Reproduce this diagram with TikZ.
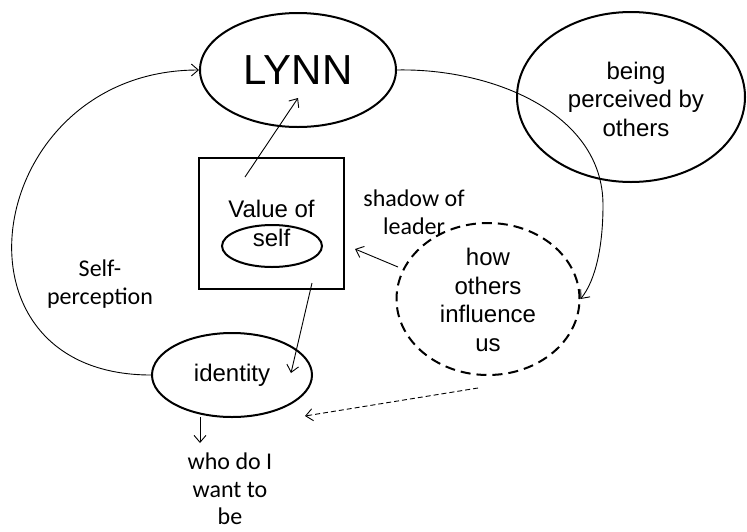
\documentclass[tikz,border=0pt]{standalone}
\usepackage{fontspec}
\setmainfont{Liberation Sans}
\newfontfamily\calfont{Carlito}
\usetikzlibrary{shapes.geometric,arrows.meta}
\begin{document}
\begin{tikzpicture}[x=1pt,y=-1pt,
  shp/.style={draw,line width=2pt},
  ell/.style={shp,ellipse,inner sep=0pt},
  txt/.style={align=center,font=\fontsize{24}{28.5}\selectfont,inner sep=0pt},
  ctxt/.style={align=center,font=\calfont\fontsize{24}{27.5}\selectfont,inner sep=0pt},
  conn/.style={line width=0.9pt,-{Straight Barb[length=7pt,width=12pt]}}]
\useasboundingbox (0,0) rectangle (747,531);
% shapes
\node[ell,minimum width=196pt,minimum height=114pt,font=\fontsize{42}{48}\selectfont] (lynn) at (298,70) {LYNN};
\node[ell,minimum width=228pt,minimum height=170pt] (perc) at (631,97) {};
\node[txt] (perctext) at (636,99) {being\\perceived by\\others};
\node[shp,txt,minimum width=145pt,minimum height=131pt] (box) at (271.5,223.5) {Value of\\self};
\node[ell,minimum width=100pt,minimum height=42pt] (selfell) at (272,246) {};
\node[ell,dash pattern=on 10pt off 6pt,minimum width=183pt,minimum height=152pt] (infl) at (488,299) {};
\node[txt] (infltext) at (488,300) {how\\others\\influence\\us};
\node[ell,txt,draw,line width=2pt,minimum width=160pt,minimum height=84pt] (ident) at (232,375) {identity};
% labels
\node[ctxt] (selfp) at (100,284) {Self-\\perception};
\node[ctxt] (shadow) at (414,212) {shadow of\\leader};
\node[ctxt] (who) at (230,489) {who do I\\want to\\be};
% free ends
\coordinate (a1s) at (245,177); \coordinate (a1e) at (298,98);
\coordinate (a2s) at (312,283); \coordinate (a2e) at (291,373);
\coordinate (a3s) at (398,267); \coordinate (a3e) at (355,249);
\coordinate (a4s) at (478,388); \coordinate (a4e) at (305,416);
\coordinate (a5s) at (200,417); \coordinate (a5e) at (200,443);
\coordinate (rmid) at (603,205);
% connectors
\draw[conn] (ident.west) .. controls (-64,375) and (-16,70) .. (lynn.west);
\draw[conn] (lynn.east) .. controls (490,68) and (603,112) .. (rmid) .. controls (603,245) and (596,280) .. (infl.east);
\draw[conn] (a1s) -- (a1e);
\draw[conn] (a2s) -- (a2e);
\draw[conn] (a3s) -- (a3e);
\draw[conn,dash pattern=on 5pt off 3pt] (a4s) -- (a4e);
\draw[conn] (a5s) -- (a5e);
\end{tikzpicture}
\end{document}
